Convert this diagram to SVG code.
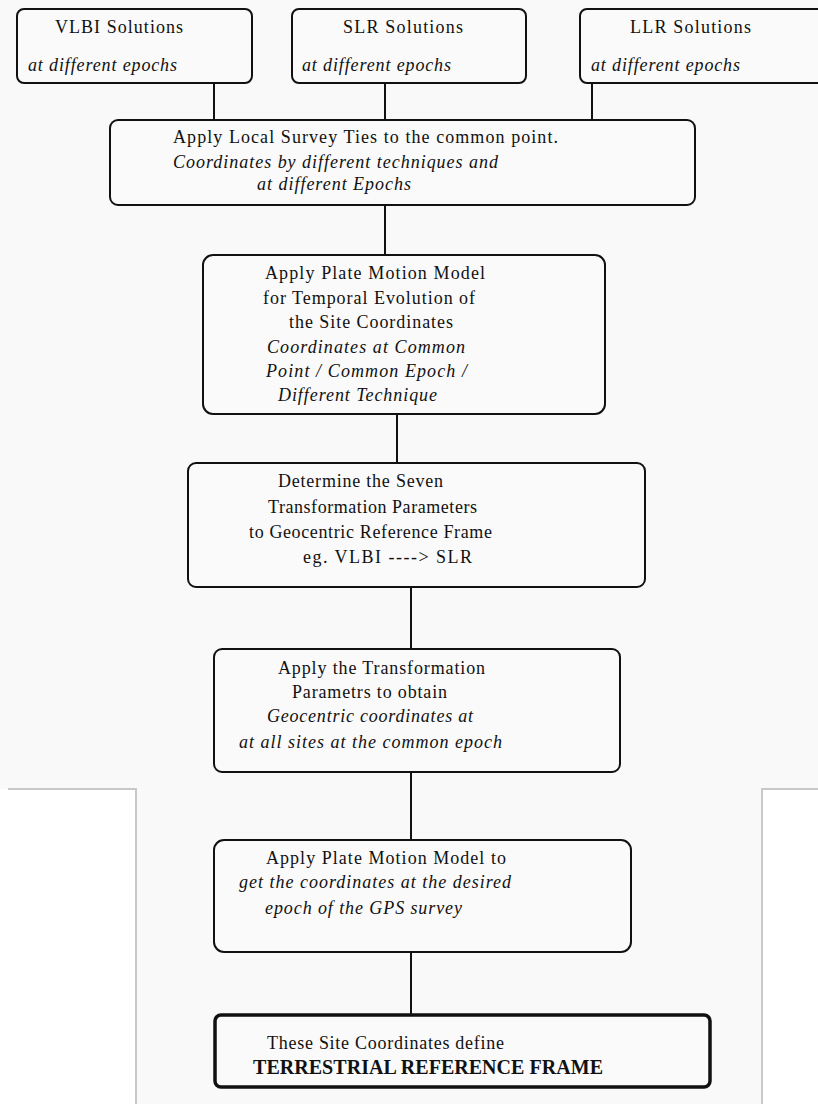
<svg xmlns="http://www.w3.org/2000/svg" width="818" height="1104" viewBox="0 0 818 1104">
<style>
.bg{fill:#f9f9f9}
.box{fill:#fafafa;stroke:#111;stroke-width:2}
.boxb{fill:#fafafa;stroke:#111;stroke-width:3.5}
.t{font-family:"Liberation Serif",serif;font-size:18px;fill:#111}
.i{font-family:"Liberation Serif",serif;font-size:18px;font-style:italic;fill:#111}
.b{font-family:"Liberation Serif",serif;font-size:20px;font-weight:bold;fill:#111}
.conn line{stroke:#111;stroke-width:2}
.edge{stroke:#c8c8c8;stroke-width:2;fill:none}
</style>
<rect class="bg" x="0" y="0" width="818" height="1104"/>
<rect x="0" y="789" width="136" height="315" fill="#ffffff"/>
<rect x="762" y="789" width="56" height="315" fill="#ffffff"/>
<path class="edge" d="M8 789 H136 V1104"/>
<path class="edge" d="M818 789 H762 V1104"/>

<g class="conn" id="connectors">
<line x1="214" y1="83" x2="214" y2="120"/>
<line x1="385" y1="83" x2="385" y2="120"/>
<line x1="592" y1="83" x2="592" y2="120"/>
<line x1="385" y1="205" x2="385" y2="255"/>
<line x1="397" y1="414" x2="397" y2="463"/>
<line x1="411" y1="587" x2="411" y2="649"/>
<line x1="411" y1="772" x2="411" y2="840"/>
<line x1="411" y1="952" x2="411" y2="1015"/>
</g>

<g id="vlbi">
<rect class="box" x="17" y="9" width="235" height="74" rx="7"/>
<text class="t" x="55" y="33" textLength="128" lengthAdjust="spacing">VLBI Solutions</text>
<text class="i" x="28" y="71" textLength="149" lengthAdjust="spacing">at different epochs</text>
</g>
<g id="slr">
<rect class="box" x="292" y="9" width="234" height="74" rx="7"/>
<text class="t" x="343" y="33" textLength="120" lengthAdjust="spacing">SLR Solutions</text>
<text class="i" x="302" y="71" textLength="149" lengthAdjust="spacing">at different epochs</text>
</g>
<g id="llr">
<rect class="box" x="580" y="9" width="245" height="74" rx="7"/>
<text class="t" x="630" y="33" textLength="121" lengthAdjust="spacing">LLR Solutions</text>
<text class="i" x="591" y="71" textLength="149" lengthAdjust="spacing">at different epochs</text>
</g>

<g id="local-ties">
<rect class="box" x="110" y="120" width="585" height="85" rx="8"/>
<text class="t" x="173" y="143" textLength="385" lengthAdjust="spacing">Apply Local Survey Ties to the common point.</text>
<text class="i" x="173" y="168" textLength="325" lengthAdjust="spacing">Coordinates by different techniques and</text>
<text class="i" x="257" y="190" textLength="154" lengthAdjust="spacing">at different Epochs</text>
</g>

<g id="plate-motion">
<rect class="box" x="203" y="255" width="402" height="159" rx="10"/>
<text class="t" x="265" y="279" textLength="220" lengthAdjust="spacing">Apply Plate Motion Model</text>
<text class="t" x="263" y="304" textLength="212" lengthAdjust="spacing">for Temporal Evolution of</text>
<text class="t" x="289" y="328" textLength="164" lengthAdjust="spacing">the Site Coordinates</text>
<text class="i" x="267" y="353" textLength="198" lengthAdjust="spacing">Coordinates at Common</text>
<text class="i" x="266" y="377" textLength="201" lengthAdjust="spacing">Point / Common Epoch /</text>
<text class="i" x="278" y="401" textLength="159" lengthAdjust="spacing">Different Technique</text>
</g>

<g id="seven-params">
<rect class="box" x="188" y="463" width="457" height="124" rx="8"/>
<text class="t" x="278" y="487" textLength="165" lengthAdjust="spacing">Determine the Seven</text>
<text class="t" x="268" y="513" textLength="209" lengthAdjust="spacing">Transformation Parameters</text>
<text class="t" x="249" y="538" textLength="243" lengthAdjust="spacing">to Geocentric Reference Frame</text>
<text class="t" x="303" y="563" textLength="169" lengthAdjust="spacing">eg.  VLBI ----&gt; SLR</text>
</g>

<g id="apply-transform">
<rect class="box" x="214" y="649" width="406" height="123" rx="8"/>
<text class="t" x="278" y="674" textLength="207" lengthAdjust="spacing">Apply the Transformation</text>
<text class="t" x="292" y="698" textLength="155" lengthAdjust="spacing">Parametrs to obtain</text>
<text class="i" x="267" y="722" textLength="206" lengthAdjust="spacing">Geocentric coordinates at</text>
<text class="i" x="239" y="748" textLength="263" lengthAdjust="spacing">at all sites at the common epoch</text>
</g>

<g id="gps-epoch">
<rect class="box" x="214" y="840" width="417" height="112" rx="10"/>
<text class="t" x="266" y="864" textLength="240" lengthAdjust="spacing">Apply Plate Motion Model to</text>
<text class="i" x="239" y="888" textLength="272" lengthAdjust="spacing">get the coordinates at the desired</text>
<text class="i" x="265" y="914" textLength="197" lengthAdjust="spacing">epoch of the GPS survey</text>
</g>

<g id="trf">
<rect class="boxb" x="215" y="1015" width="495" height="72" rx="6"/>
<text class="t" x="267" y="1049" textLength="237" lengthAdjust="spacing">These Site Coordinates define</text>
<text class="b" x="253" y="1074" textLength="350" lengthAdjust="spacing">TERRESTRIAL REFERENCE FRAME</text>
</g>
</svg>
